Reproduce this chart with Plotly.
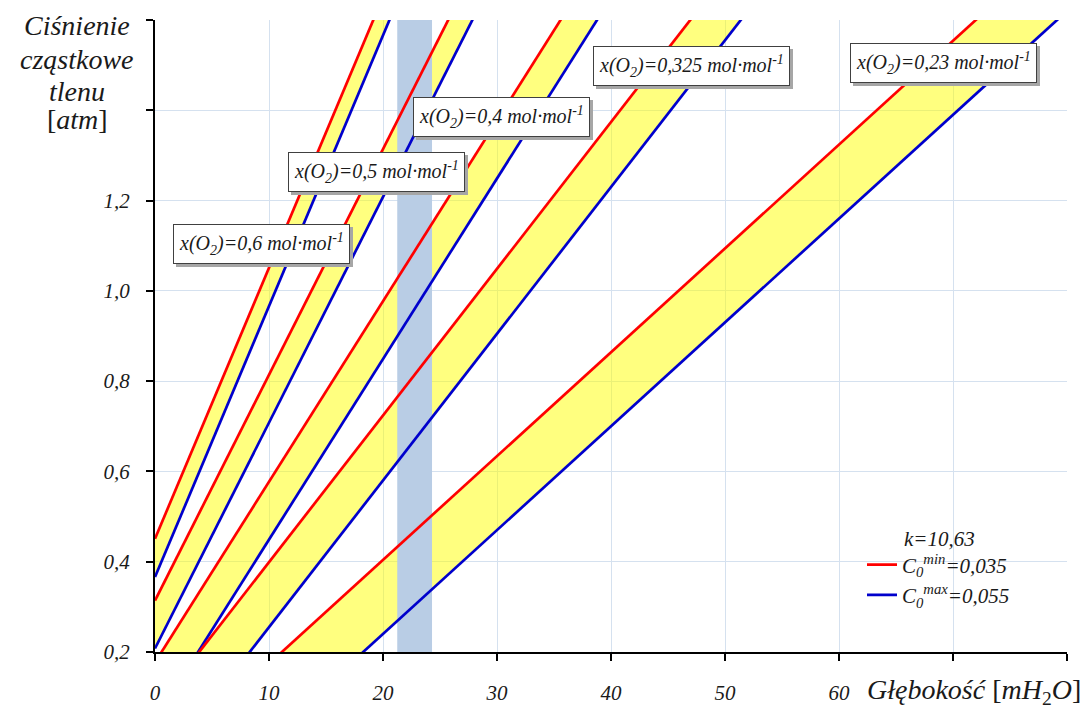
import plotly.graph_objects as go

# ---------------- data ----------------
x_o2 = [0.6, 0.5, 0.4, 0.325, 0.23]
series_labels = ["0,6", "0,5", "0,4", "0,325", "0,23"]
depth_ends = [0, 80]                      # depth [mH2O]
# oxygen partial pressure [atm] at depth 0 and 80 m, C0 min (red)
p_c0min = [[0.451, 5.251], [0.314, 4.314], [0.177, 3.377], [0.074, 2.674], [-0.056, 1.784]]
# oxygen partial pressure [atm] at depth 0 and 80 m, C0 max (blue)
p_c0max = [[0.366, 5.166], [0.208, 4.208], [0.049, 3.249], [-0.070, 2.530], [-0.220, 1.620]]
# label anchor points (depth, pressure)
label_depth = [9.3, 19.45, 30.4, 47.1, 69.2]
label_p = [1.104, 1.263, 1.386, 1.498, 1.504]
# highlighted depth band
band_depth = [21.25, 24.3]
band_p = [0.2, 1.6]

x_ticks = [0, 10, 20, 30, 40, 50, 60, 70, 80]
x_ticktext = ["0", "10", "20", "30", "40", "50", "60", "", ""]
y_ticks = [0.2, 0.4, 0.6, 0.8, 1.0, 1.2, 1.4, 1.6]
y_ticktext = ["0,2", "0,4", "0,6", "0,8", "1,0", "1,2", "", ""]

k_text = "k=10,63"
c0min_name = "C<sub>0</sub><sup>min</sup>=0,035"
c0max_name = "C<sub>0</sub><sup>max</sup>=0,055"

# ---------------- styling ----------------
FONT = "Liberation Serif"
RED = "#FF0000"
BLUE = "#0000CC"
FILL = "rgba(255,255,0,0.5)"
BAND = "#B9CDE5"
GRID = "#D5E1EF"
TXT = "#1a1a1a"

W, H = 1091, 709
ML, MR, MT, MB = 155, 24, 20, 57
PW, PH = W - ML - MR, H - MT - MB


def px_x(px):
    return (px - ML) / PW


def px_y(py):
    return (H - MB - py) / PH


fig = go.Figure()

# yellow bands between C0 min and C0 max lines
for i in range(len(x_o2)):
    fig.add_trace(go.Scatter(x=depth_ends, y=p_c0min[i], mode="lines",
                             line=dict(width=0, color=RED), showlegend=False,
                             hoverinfo="skip"))
    fig.add_trace(go.Scatter(x=depth_ends, y=p_c0max[i], mode="lines",
                             line=dict(width=0, color=BLUE), fill="tonexty",
                             fillcolor=FILL, showlegend=False, hoverinfo="skip"))

# highlighted depth band
fig.add_trace(go.Scatter(x=[band_depth[0], band_depth[1], band_depth[1], band_depth[0]],
                         y=[band_p[0], band_p[0], band_p[1], band_p[1]],
                         mode="none", fill="toself", fillcolor=BAND,
                         showlegend=False, hoverinfo="skip"))

# lines
for i in range(len(x_o2)):
    last = i == len(x_o2) - 1
    fig.add_trace(go.Scatter(x=depth_ends, y=p_c0min[i], mode="lines",
                             line=dict(width=2.7, color=RED), name=c0min_name,
                             showlegend=last))
    fig.add_trace(go.Scatter(x=depth_ends, y=p_c0max[i], mode="lines",
                             line=dict(width=2.7, color=BLUE), name=c0max_name,
                             showlegend=last))

annotations = []
# labels with shadows
for i in range(len(x_o2)):
    txt = f"x(O<sub>2</sub>)={series_labels[i]} mol·mol<sup>-1</sup>"
    common = dict(x=label_depth[i], y=label_p[i], xref="x", yref="y",
                  text=txt, showarrow=False, borderpad=5,
                  xanchor="center", yanchor="middle")
    annotations.append(dict(**common, font=dict(family=FONT, size=20, style="italic",
                                                color="rgba(0,0,0,0)"),
                            bgcolor="#A6A6A6", borderwidth=1, bordercolor="#A6A6A6",
                            xshift=3, yshift=-3))
    annotations.append(dict(**common, font=dict(family=FONT, size=20, style="italic",
                                                color=TXT),
                            bgcolor="white", borderwidth=1, bordercolor="#404040"))

# y axis title (stacked)
for txt, py in zip(["Ciśnienie", "cząstkowe", "tlenu", "[<i>atm</i>]"], [25, 59, 91, 120]):
    annotations.append(dict(x=px_x(77), y=px_y(py), xref="paper", yref="paper",
                            text=txt, showarrow=False, xanchor="center", yanchor="middle",
                            font=dict(family=FONT, size=28,
                                      style="normal" if txt.startswith("[") else "italic",
                                      color=TXT)))

# x axis title
annotations.append(dict(x=px_x(865), y=px_y(692), xref="paper", yref="paper",
                        text="<i>Głębokość</i> [<i>mH</i><sub>2</sub><i>O</i>]",
                        showarrow=False, xanchor="left", yanchor="middle",
                        font=dict(family=FONT, size=28, color=TXT)))

# legend header
annotations.append(dict(x=px_x(902), y=px_y(539), xref="paper", yref="paper",
                        text=k_text, showarrow=False, xanchor="left", yanchor="middle",
                        font=dict(family=FONT, size=21, style="italic", color=TXT)))

fig.update_layout(
    width=W, height=H,
    margin=dict(l=ML, r=MR, t=MT, b=MB, autoexpand=False),
    paper_bgcolor="white", plot_bgcolor="white",
    annotations=annotations,
    showlegend=True,
    legend=dict(x=px_x(862), y=px_y(580), xanchor="left", yanchor="middle",
                bgcolor="rgba(0,0,0,0)", borderwidth=0, traceorder="normal",
                font=dict(family=FONT, size=21, style="italic", color=TXT),
                itemwidth=30, tracegroupgap=0),
    xaxis=dict(range=[0, 80], tickvals=x_ticks, ticktext=x_ticktext,
               showgrid=True, gridcolor=GRID, gridwidth=1,
               showline=True, linecolor="black", linewidth=2,
               ticks="outside", ticklen=7, tickwidth=2, tickcolor="black",
               tickfont=dict(family=FONT, size=21, style="italic", color=TXT),
               ticklabelstandoff=14, zeroline=False, fixedrange=True),
    yaxis=dict(range=[0.2, 1.6], tickvals=y_ticks, ticktext=y_ticktext,
               showgrid=True, gridcolor=GRID, gridwidth=1,
               showline=True, linecolor="black", linewidth=2,
               ticks="outside", ticklen=7, tickwidth=2, tickcolor="black",
               tickfont=dict(family=FONT, size=21, style="italic", color=TXT),
               ticklabelstandoff=12, zeroline=False, fixedrange=True),
)

fig.write_html("out.html", config={"displayModeBar": False},
               post_script="document.body.style.margin='0';")
